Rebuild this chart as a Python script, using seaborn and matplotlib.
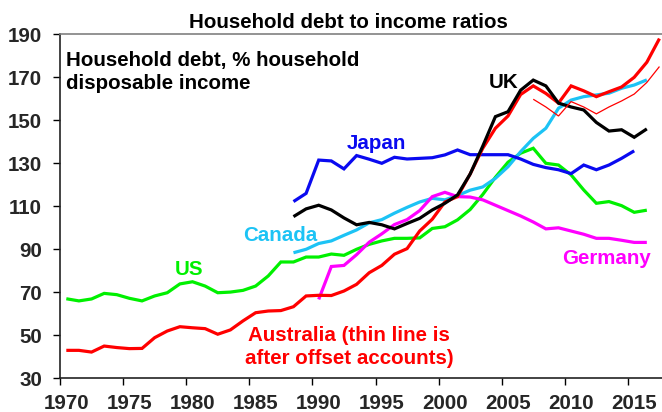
import numpy as np
import pandas as pd
import matplotlib
matplotlib.use("Agg")
import matplotlib.pyplot as plt
import seaborn as sns

# ---------------- data (annual, % of household disposable income) ----------------
aus_years = list(range(1970, 2018))
aus_vals = [43.0, 43.0, 42.2, 45.0, 44.3, 43.8, 43.9, 48.9, 52.0, 54.0,
            53.5, 53.1, 50.5, 52.5, 56.7, 60.5, 61.3, 61.5, 63.3, 68.3,
            68.6, 68.5, 70.6, 73.7, 79.1, 82.5, 87.7, 90.3, 98.5, 104.0,
            112.0, 114.5, 125.0, 137.0, 146.3, 152.0, 162.0, 166.0, 162.5, 158.0,
            166.0, 163.7, 161.0, 163.3, 165.5, 170.0, 177.0, 188.0]

aus_offset_years = list(range(2007, 2018))
aus_offset_vals = [159.8, 156.2, 152.0, 158.7, 156.2, 153.0, 156.2, 159.0, 162.2, 167.6, 175.0]

us_years = list(range(1970, 2017))
us_vals = [67.0, 66.0, 66.9, 69.5, 68.9, 67.2, 66.0, 68.3, 69.8, 73.9,
           74.9, 72.9, 69.8, 70.1, 70.9, 72.9, 77.6, 84.1, 84.1, 86.4,
           86.4, 87.8, 87.2, 90.0, 92.3, 93.9, 95.1, 95.1, 95.3, 99.7,
           100.5, 103.7, 108.5, 115.5, 123.5, 130.5, 134.7, 137.0, 130.0, 129.2,
           124.6, 117.6, 111.4, 112.2, 110.3, 107.2, 108.2]

japan_years = list(range(1988, 2016))
japan_vals = [112.2, 116.0, 131.5, 131.1, 127.4, 133.6, 131.9, 130.0, 132.8, 132.0,
              132.3, 132.6, 133.9, 136.2, 134.0, 134.0, 134.0, 134.0, 132.0, 129.5,
              128.0, 127.0, 125.2, 129.2, 127.0, 129.2, 132.3, 135.8]

uk_years = list(range(1988, 2017))
uk_vals = [105.2, 108.8, 110.5, 108.3, 104.6, 101.4, 102.5, 101.4, 99.5, 102.0,
           104.4, 108.3, 111.4, 115.3, 125.0, 138.0, 151.7, 154.0, 164.0, 168.7,
           166.0, 158.0, 156.2, 154.8, 149.0, 145.0, 145.6, 142.1, 146.0]

canada_years = list(range(1988, 2017))
canada_vals = [88.4, 90.0, 92.7, 93.9, 96.5, 99.0, 102.3, 103.8, 106.8, 109.5,
               112.0, 113.7, 113.0, 115.0, 117.5, 119.0, 123.0, 128.4, 135.4, 141.6,
               146.3, 155.6, 159.4, 161.0, 161.8, 162.6, 164.9, 166.4, 168.8]

germany_years = list(range(1990, 2017))
germany_vals = [66.7, 82.0, 82.5, 87.5, 93.3, 97.2, 101.5, 103.8, 108.0, 114.5,
                116.5, 114.5, 114.3, 113.0, 110.5, 108.0, 105.5, 102.7, 99.5, 100.0,
                98.5, 97.0, 95.1, 95.1, 94.2, 93.2, 93.2]

x_ticks = [1970, 1975, 1980, 1985, 1990, 1995, 2000, 2005, 2010, 2015]
x_labels = [str(y) for y in x_ticks]
y_ticks = [30, 50, 70, 90, 110, 130, 150, 170, 190]

# ---------------- styling ----------------
sns.set_theme(style="white")
plt.rcParams['font.family'] = ['Liberation Sans', 'DejaVu Sans']
plt.rcParams['font.weight'] = 'bold'

C_AUS = "#FF0000"
C_US = "#00F000"
C_JPN = "#0A0AF0"
C_UK = "#000000"
C_CAN = "#1CC3F5"
C_GER = "#FF00FF"

W, H = 662, 412
fig = plt.figure(figsize=(W / 100, H / 100), dpi=100)
ax = fig.add_axes([60 / W, 1 - 378.3 / H, 1 - 60 / W, (378.3 - 34.3) / H])

lw = 2.3
def draw(years, vals, color, width=lw):
    df = pd.DataFrame({"year": np.array(years) + 0.5, "val": vals})
    sns.lineplot(data=df, x="year", y="val", color=color, linewidth=width,
                 ax=ax, solid_joinstyle="miter", solid_capstyle="butt")

draw(us_years, us_vals, C_US)
draw(canada_years, canada_vals, C_CAN)
draw(germany_years, germany_vals, C_GER)
draw(japan_years, japan_vals, C_JPN)
draw(aus_years, aus_vals, C_AUS)
draw(uk_years, uk_vals, C_UK)
draw(aus_offset_years, aus_offset_vals, C_AUS, width=0.9)

ax.set_xlim(1970, 1970 + (W - 60) / 12.62)
ax.set_ylim(30, 190)
# major ticks at year boundaries (no labels); labels centred on the year (minor ticks)
ax.set_xticks(x_ticks)
ax.set_xticklabels([""] * len(x_ticks))
ax.set_xticks([y + 0.5 for y in x_ticks], minor=True)
ax.set_xticklabels(x_labels, minor=True)
ax.set_yticks(y_ticks)
ax.set_xlabel("")
ax.set_ylabel("")
fs = 14.8
ax.tick_params(axis='y', which='major', direction='out', length=5, width=1,
               color='black', labelsize=fs, pad=8, left=True)
ax.tick_params(axis='x', which='major', direction='out', length=5, width=1,
               color='black', bottom=True)
ax.tick_params(axis='x', which='minor', length=0, labelsize=fs, pad=11, bottom=True)
for lab in ax.get_xticklabels(minor=True) + ax.get_yticklabels():
    lab.set_fontweight('bold')

for s in ['left', 'bottom']:
    ax.spines[s].set_color('#222222')
    ax.spines[s].set_linewidth(1.2)
ax.spines['top'].set_color('#808080')
ax.spines['top'].set_linewidth(1.2)
ax.spines['right'].set_visible(False)
ax.grid(False)

ax.text(1970.5, 175.4, "Household debt, % household", fontsize=fs, fontweight='bold',
        color='black', ha='left', va='baseline')
ax.text(1970.5, 164.6, "disposable income", fontsize=fs, fontweight='bold',
        color='black', ha='left', va='baseline')
ax.text(1992.7, 136.5, "Japan", fontsize=fs, fontweight='bold', color=C_JPN, ha='left', va='baseline')
ax.text(2004.0, 165.0, "UK", fontsize=fs, fontweight='bold', color=C_UK, ha='left', va='baseline')
ax.text(1984.5, 93.9, "Canada", fontsize=fs, fontweight='bold', color=C_CAN, ha='left', va='baseline')
ax.text(1979.1, 78.0, "US", fontsize=fs, fontweight='bold', color=C_US, ha='left', va='baseline')
ax.text(2009.8, 83.3, "Germany", fontsize=fs, fontweight='bold', color=C_GER, ha='left', va='baseline')
ax.text(1992.9, 47.3, "Australia (thin line is", fontsize=fs, fontweight='bold', color=C_AUS,
        ha='center', va='baseline')
ax.text(1992.9, 36.8, "after offset accounts)", fontsize=fs, fontweight='bold', color=C_AUS,
        ha='center', va='baseline')

fig.text(348 / W, 1 - 28.3 / H, "Household debt to income ratios", fontsize=fs,
         fontweight='bold', ha='center', va='baseline', color='black')

fig.savefig("out.png", dpi=100)
